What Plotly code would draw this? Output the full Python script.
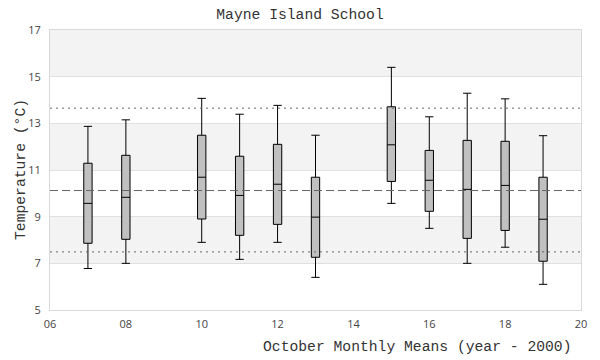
import plotly.graph_objects as go

# Data (year - 2000) and box statistics in °C
years = [7, 8, 10, 11, 12, 13, 15, 16, 17, 18, 19]
upper = [12.87, 13.15, 14.07, 13.39, 13.77, 12.49, 15.40, 13.28, 14.29, 14.05, 12.47]
q3 = [11.29, 11.63, 12.49, 11.59, 12.10, 10.69, 13.71, 11.84, 12.27, 12.23, 10.69]
median = [9.57, 9.83, 10.69, 9.91, 10.39, 8.98, 12.08, 10.56, 10.17, 10.34, 8.89]
q1 = [7.86, 8.03, 8.90, 8.20, 8.67, 7.26, 10.51, 9.23, 8.07, 8.41, 7.09]
lower = [6.78, 7.00, 7.90, 7.17, 7.90, 6.40, 9.57, 8.50, 7.00, 7.69, 6.10]

# Reference lines: upper dotted, mean dashed, lower dotted
ref_values = [13.65, 10.12, 7.49]
ref_dash = ["2px,4px", "8px,4px", "2px,4px"]

x_tickvals = [6, 8, 10, 12, 14, 16, 18, 20]
x_ticktext = ["06", "08", "10", "12", "14", "16", "18", "20"]
y_tickvals = [5, 7, 9, 11, 13, 15, 17]
band_ranges = [(7, 9), (11, 13), (15, 17)]

mono = "Liberation Mono, Courier New, monospace"

fig = go.Figure()
fig.add_trace(go.Box(
    x=years, q1=q1, median=median, q3=q3,
    lowerfence=lower, upperfence=upper,
    width=0.22, whiskerwidth=1,
    fillcolor="#c0c0c0",
    line=dict(color="#000000", width=1),
    boxpoints=False, hoverinfo="skip", showlegend=False,
))

shapes = []
for lo, hi in band_ranges:
    shapes.append(dict(type="rect", xref="paper", yref="y", x0=0, x1=1, y0=lo, y1=hi,
                       fillcolor="#f3f3f3", line=dict(width=0), layer="below"))
for v, d in zip(ref_values, ref_dash):
    shapes.append(dict(type="line", xref="paper", yref="y", x0=0, x1=1, y0=v, y1=v,
                       line=dict(color="#666666", width=1, dash=d), layer="above"))

fig.update_layout(
    width=600, height=360,
    margin=dict(l=50, r=19, t=30, b=50, autoexpand=False),
    paper_bgcolor="white", plot_bgcolor="white",
    title=dict(text="Mayne Island School", x=0.5, xanchor="center",
               y=1 - 14 / 360, yanchor="middle", yref="container",
               font=dict(family=mono, size=14.7, color="#333333")),
    font=dict(family="Open Sans, sans-serif", size=11, color="#444444"),
    xaxis=dict(range=[6, 20], tickvals=x_tickvals, ticktext=x_ticktext,
               showgrid=False, zeroline=False, showline=True, mirror=True,
               linecolor="#d9d9d9", linewidth=1, ticks="", ticklabelstandoff=4,
               automargin=False,
               tickfont=dict(family="Open Sans, sans-serif", size=11, color="#444444")),
    yaxis=dict(range=[5, 17], tickvals=y_tickvals,
               showgrid=True, gridcolor="#e0e0e0", gridwidth=1, zeroline=False,
               showline=True, mirror=True, linecolor="#d9d9d9", linewidth=1, ticks="",
               ticklabelstandoff=6, automargin=False,
               tickfont=dict(family="Open Sans, sans-serif", size=11, color="#444444")),
    shapes=shapes,
    annotations=[
        dict(text="October Monthly Means (year - 2000)", xref="paper", yref="paper",
             x=(574 - 50) / 531, xanchor="right", y=-37 / 280, yanchor="middle",
             showarrow=False, font=dict(family=mono, size=14.7, color="#333333")),
        dict(text="Temperature (°C)", xref="paper", yref="paper", textangle=-90,
             x=-29 / 531, xanchor="center", y=0.5, yanchor="middle",
             showarrow=False, font=dict(family=mono, size=14.7, color="#333333")),
    ],
)

fig.write_html("out.html", config={"displayModeBar": False},
               post_script="document.body.style.margin='0';")
